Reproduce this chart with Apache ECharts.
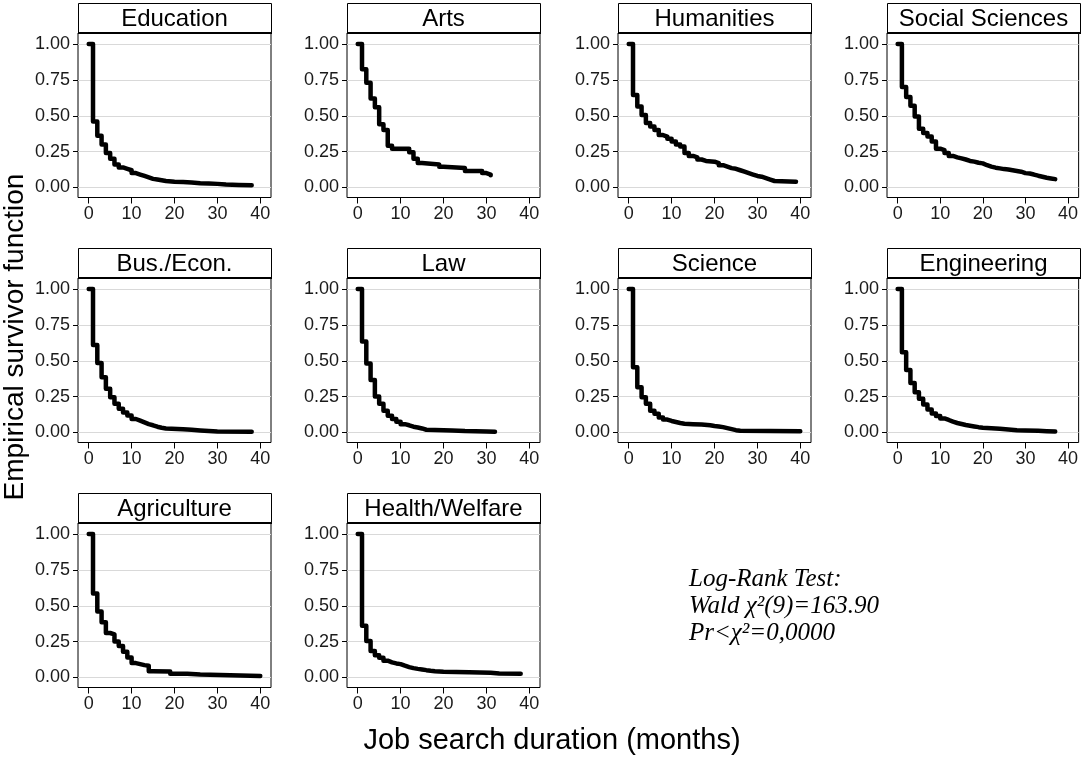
<!DOCTYPE html>
<html>
<head>
<meta charset="utf-8">
<script src="https://cdn.jsdelivr.net/npm/echarts@6/dist/echarts.min.js"></script>
<style>
  html, body { margin: 0; padding: 0; background: #fff; }
  #chart { width: 1081px; height: 761px; }
</style>
</head>
<body>
<div id="chart"></div>
<script>
// panel titles, in reading order
var fields = ["Education", "Arts", "Humanities", "Social Sciences",
  "Bus./Econ.", "Law", "Science", "Engineering",
  "Agriculture", "Health/Welfare"];

// Kaplan-Meier estimates [month, S(t)]
var education = [[0,1],[1,0.46],[2,0.36],[3,0.30],[4,0.24],[5,0.20],[6,0.16],[7,0.14],[8,0.13],[9,0.12],
  [10,0.10],[11,0.09],[12,0.08],[13,0.07],[14,0.06],[15,0.055],[16,0.05],[17,0.045],[18,0.04],[20,0.038],
  [22,0.035],[24,0.03],[26,0.028],[28,0.025],[30,0.02],[32,0.018],[35,0.016],[38,0.012]];
var arts = [[0,1],[1,0.825],[2,0.73],[3,0.62],[4,0.56],[5,0.44],[6,0.40],[7,0.29],[8,0.27],[12,0.245],
  [13,0.20],[14,0.17],[15,0.16],[19,0.145],[20,0.135],[25,0.115],[29,0.10],[30,0.09],[31,0.085]];
var humanities = [[0,1],[1,0.645],[2,0.565],[3,0.505],[4,0.45],[5,0.425],[6,0.40],[7,0.365],[8,0.355],[9,0.34],
  [10,0.32],[11,0.30],[12,0.285],[13,0.24],[14,0.22],[15,0.21],[16,0.195],[17,0.185],[18,0.18],[20,0.17],
  [21,0.155],[22,0.145],[23,0.135],[24,0.13],[25,0.12],[26,0.11],[27,0.10],[28,0.09],[29,0.08],[30,0.075],
  [31,0.065],[32,0.055],[33,0.045],[34,0.04],[39,0.04]];
var socialSciences = [[0,1],[1,0.70],[2,0.63],[3,0.57],[4,0.495],[5,0.41],[6,0.38],[7,0.355],[8,0.32],[9,0.27],
  [10,0.26],[11,0.24],[12,0.22],[13,0.21],[14,0.203],[15,0.195],[16,0.185],[17,0.18],[18,0.172],[19,0.168],
  [20,0.155],[21,0.145],[22,0.138],[23,0.133],[24,0.128],[25,0.125],[26,0.12],[27,0.115],[28,0.11],[29,0.10],
  [30,0.097],[31,0.09],[32,0.082],[33,0.075],[34,0.068],[35,0.063],[36,0.058],[37,0.055]];
var busEcon = [[0,1],[1,0.61],[2,0.485],[3,0.385],[4,0.305],[5,0.245],[6,0.20],[7,0.165],[8,0.14],[9,0.118],
  [10,0.094],[11,0.082],[12,0.07],[13,0.058],[14,0.05],[15,0.04],[16,0.033],[17,0.028],[18,0.023],[22,0.019],
  [24,0.014],[26,0.01],[28,0.007],[30,0.005],[38,0.003]];
var law = [[0,1],[1,0.635],[2,0.48],[3,0.365],[4,0.25],[5,0.20],[6,0.152],[7,0.117],[8,0.094],[9,0.075],
  [10,0.058],[11,0.05],[12,0.04],[13,0.035],[14,0.028],[15,0.019],[16,0.016],[20,0.014],[22,0.01],[25,0.007],
  [30,0.005],[32,0.003]];
var science = [[0,1],[1,0.455],[2,0.315],[3,0.245],[4,0.20],[5,0.152],[6,0.13],[7,0.105],[8,0.09],[9,0.08],
  [10,0.073],[11,0.066],[12,0.061],[13,0.058],[15,0.056],[17,0.05],[19,0.045],[20,0.042],[21,0.037],[22,0.03],
  [23,0.023],[24,0.016],[25,0.012],[26,0.008],[40,0.008]];
var engineering = [[0,1],[1,0.56],[2,0.435],[3,0.345],[4,0.28],[5,0.235],[6,0.195],[7,0.16],[8,0.133],[9,0.115],
  [10,0.098],[11,0.087],[12,0.075],[13,0.066],[14,0.059],[15,0.052],[16,0.047],[17,0.042],[18,0.037],[19,0.033],
  [20,0.03],[22,0.026],[24,0.021],[26,0.016],[28,0.014],[30,0.012],[33,0.009],[35,0.007],[37,0.003]];
var agriculture = [[0,1],[1,0.585],[2,0.46],[3,0.385],[4,0.31],[5,0.30],[6,0.25],[7,0.22],[8,0.18],[9,0.14],
  [10,0.10],[11,0.093],[12,0.086],[13,0.082],[14,0.044],[15,0.042],[19,0.026],[23,0.021],[26,0.01],[40,0.01]];
var healthWelfare = [[0,1],[1,0.36],[2,0.255],[3,0.185],[4,0.155],[5,0.138],[6,0.117],[7,0.105],[8,0.098],[9,0.093],
  [10,0.082],[11,0.072],[12,0.065],[13,0.06],[14,0.056],[15,0.051],[16,0.047],[17,0.044],[18,0.04],[20,0.037],
  [26,0.033],[31,0.028],[33,0.026],[38,0.023]];

var curves = [education, arts, humanities, socialSciences, busEcon, law,
  science, engineering, agriculture, healthWelfare];

var xTicks = [0, 10, 20, 30, 40];
var yTicks = [0, 0.25, 0.5, 0.75, 1];

var statLines = ["Log-Rank Test:", "Wald \u03c7\u00b2(9)=163.90", "Pr<\u03c7\u00b2=0,0000"];

// layout
var colLeft = [78, 347, 618, 887];
var rowTop = [33, 278, 523];
var plotW = 193, plotH = 164.5, headH = 30;

var grids = [], xAxes = [], yAxes = [], series = [], graphics = [];

fields.forEach(function (name, i) {
  var left = colLeft[i % 4];
  var top = rowTop[Math.floor(i / 4)];
  grids.push({
    left: left, top: top, width: plotW, height: plotH,
    show: true, borderColor: "#000", borderWidth: 1, backgroundColor: "#fff"
  });
  xAxes.push({
    type: "value", gridIndex: i, min: -2.5, max: 42.5,
    axisLine: { show: false, onZero: false },
    axisTick: { show: true, customValues: xTicks, length: 6, lineStyle: { color: "#000" } },
    axisLabel: { customValues: xTicks, fontSize: 18, color: "#1a1a1a", margin: 8, fontFamily: "Liberation Sans" },
    splitLine: { show: false }
  });
  yAxes.push({
    type: "value", gridIndex: i, min: -0.07, max: 1.077,
    axisLine: { show: false, onZero: false },
    axisTick: { show: true, customValues: yTicks, length: 5, lineStyle: { color: "#000" } },
    axisLabel: {
      customValues: yTicks, fontSize: 18, color: "#1a1a1a", margin: 8, fontFamily: "Liberation Sans",
      formatter: function (v) { return v.toFixed(2); }
    },
    splitLine: { show: false }
  });
  series.push({
    type: "line", xAxisIndex: i, yAxisIndex: i, data: curves[i],
    step: "end", symbol: "none", silent: true,
    lineStyle: { color: "#000", width: 4.5, cap: "round", join: "round" },
    markLine: {
      silent: true, symbol: "none", z: 1, animation: false,
      label: { show: false },
      lineStyle: { color: "#d9d9d9", width: 1, type: "solid" },
      emphasis: { disabled: true },
      data: yTicks.map(function (v) { return { yAxis: v }; })
    }
  });
  // header strip
  graphics.push({
    type: "rect", shape: { x: left + 0.5, y: top - headH + 0.5, width: plotW, height: headH },
    style: { fill: "#fff", stroke: "#000", lineWidth: 1 }
  });
  graphics.push({
    type: "line", shape: { x1: left, y1: top, x2: left + plotW + 1, y2: top },
    style: { stroke: "#000", lineWidth: 2 }
  });
  graphics.push({
    type: "text", x: left + plotW / 2, y: top - headH / 2 + 1,
    style: { text: name, fill: "#000", font: "24px 'Liberation Sans', Arial", align: "center", verticalAlign: "middle" }
  });
});

graphics.push({
  type: "text", x: 15, y: 337, rotation: Math.PI / 2,
  style: { text: "Empirical survivor function", fill: "#000", font: "28px 'Liberation Sans', Arial",
    align: "center", verticalAlign: "middle" }
});
graphics.push({
  type: "text", x: 552, y: 741,
  style: { text: "Job search duration (months)", fill: "#000", font: "29px 'Liberation Sans', Arial",
    align: "center", verticalAlign: "middle" }
});
statLines.forEach(function (s, k) {
  graphics.push({
    type: "text", x: 689, y: 579 + k * 27,
    style: { text: s, fill: "#000", font: "italic 25px 'Liberation Serif', 'Times New Roman'",
      align: "left", verticalAlign: "middle" }
  });
});

var chart = echarts.init(document.getElementById("chart"));
chart.setOption({
  animation: false,
  backgroundColor: "#fff",
  grid: grids,
  xAxis: xAxes,
  yAxis: yAxes,
  series: series,
  graphic: graphics
});
</script>
</body>
</html>
